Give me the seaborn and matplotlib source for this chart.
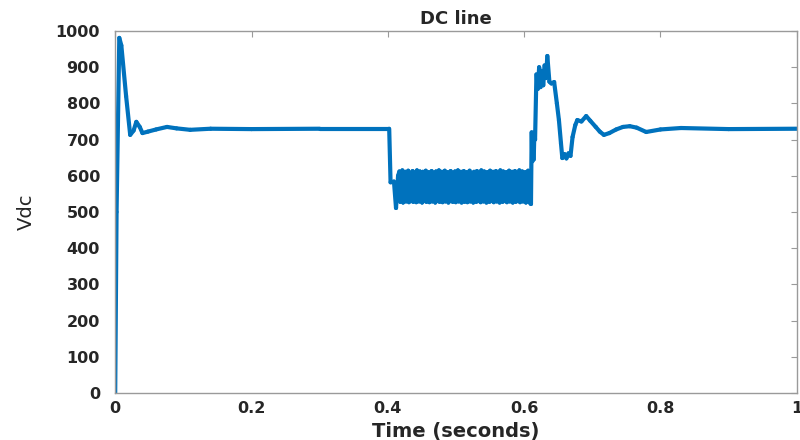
import numpy as np
import pandas as pd
import matplotlib
matplotlib.use("Agg")
import matplotlib.pyplot as plt
import seaborn as sns

# ---- data ----
# start-up transient and first steady state
t_start = [0.0, 0.002, 0.006, 0.009, 0.016, 0.022, 0.027, 0.031, 0.036, 0.040,
           0.048, 0.060, 0.076, 0.090, 0.110, 0.140, 0.200, 0.300, 0.402]
v_start = [0, 500, 981, 960, 820, 713, 725, 749, 735, 718,
           722, 728, 735, 731, 727, 730, 729, 730, 730]

# drop at t = 0.4
t_drop = [0.404, 0.409, 0.412, 0.415]
v_drop = [582, 584, 511, 600]

# fast oscillation band (0.417 .. 0.609 s)
band_start, band_end = 0.417, 0.609
band_v = [612, 528, 605, 532, 615, 526, 608, 534, 611, 529, 603, 531, 614, 527, 609,
          533, 606, 530, 613, 528, 604, 535, 610, 527, 615, 531, 607, 529, 612, 534,
          605, 526, 611, 532, 608, 530, 614, 528, 603, 533, 610, 527, 606, 531, 613,
          529, 609, 534, 604, 526, 612, 532, 607, 530, 615, 528, 605, 533, 611, 527,
          608, 531, 614, 529, 603, 535, 610, 526, 606, 532, 613, 530, 609, 528, 604,
          533, 612, 527, 607, 531, 615, 529, 605, 534, 611, 526, 608, 530, 613, 528,
          606, 532, 610, 527, 604, 533, 614, 529, 608, 531, 603, 526, 611, 534, 607,
          528, 613, 530, 605, 532, 609, 527, 615, 533, 604, 529, 612, 531, 606, 526,
          610, 534, 608, 528, 614, 530, 603, 532, 611, 527, 607, 533, 613, 529, 605,
          531, 609, 526, 615, 534, 604, 528, 612, 530, 606, 532, 610, 527, 608, 533,
          614, 529, 603, 531, 611, 526, 607, 534, 613, 528, 605, 530, 609, 532, 615,
          527, 604, 533, 612, 529, 606, 531, 610, 526, 608, 534, 614, 528, 611, 524]

# recovery transient after t = 0.61
t_rec = [0.610, 0.611, 0.612, 0.613, 0.614, 0.615, 0.616, 0.618, 0.620, 0.622,
         0.624, 0.626, 0.628, 0.630, 0.632, 0.634, 0.637, 0.640, 0.644, 0.648,
         0.651, 0.654, 0.656, 0.659, 0.662, 0.665, 0.668, 0.671, 0.675, 0.678,
         0.684, 0.691, 0.697, 0.705, 0.711, 0.717, 0.725, 0.735, 0.745, 0.755,
         0.765, 0.779, 0.800, 0.830, 0.900, 1.000]
v_rec = [522, 720, 640, 715, 645, 720, 700, 880, 840, 900,
         845, 890, 850, 905, 870, 931, 860, 855, 859, 800,
         754, 690, 649, 660, 648, 662, 655, 707, 740, 754,
         750, 765, 752, 735, 722, 713, 718, 728, 735, 737,
         733, 721, 728, 732, 729, 730]

x_ticks = [0, 0.2, 0.4, 0.6, 0.8, 1.0]
x_tick_labels = ["0", "0.2", "0.4", "0.6", "0.8", "1"]
y_ticks = [0, 100, 200, 300, 400, 500, 600, 700, 800, 900, 1000]

band_t = list(np.linspace(band_start, band_end, len(band_v)))
t_all = t_start + t_drop + band_t + t_rec
v_all = v_start + v_drop + band_v + v_rec

# table of consecutive point pairs (one unit per segment) so that the dense
# oscillation renders as a solid band without stroke-fold artefacts
rows = []
for i in range(len(t_all) - 1):
    rows.append((t_all[i], v_all[i], i))
    rows.append((t_all[i + 1], v_all[i + 1], i))
df = pd.DataFrame(rows, columns=["t", "v", "seg"])

# ---- plot ----
sns.set_theme(style="white")
plt.rcParams["font.family"] = ["DejaVu Sans"]
plt.rcParams["path.simplify"] = False

fig = plt.figure(figsize=(8, 4.4), dpi=100)
ax = fig.add_axes([0.144, 0.107, 0.852, 0.8225])
sns.lineplot(data=df, x="t", y="v", units="seg", ax=ax, color="#0072BD", lw=3,
             estimator=None, sort=False, solid_capstyle="round")

ax.set_xlim(0, 1)
ax.set_ylim(0, 1000)
ax.set_xticks(x_ticks)
ax.set_xticklabels(x_tick_labels)
ax.set_yticks(y_ticks)
ax.tick_params(direction="in", length=4, width=0.8, colors="#9a9a9a",
               labelcolor="#262626", labelsize=11.5, top=True, right=True)
ax.tick_params(axis="x", pad=6)
ax.tick_params(axis="y", pad=11)
for lab in ax.get_xticklabels() + ax.get_yticklabels():
    lab.set_fontweight("bold")
for sp in ax.spines.values():
    sp.set_visible(True)
    sp.set_color("#9a9a9a")
    sp.set_linewidth(1)
    sp.set_zorder(3)

ax.set_title("DC line", fontsize=13, fontweight="bold", color="#262626", pad=5)
ax.set_xlabel("Time (seconds)", fontsize=14, fontweight="bold", color="#262626", labelpad=4)
ax.set_ylabel("Vdc", fontsize=14, color="#262626", labelpad=14)

fig.savefig("out.png", dpi=100)
